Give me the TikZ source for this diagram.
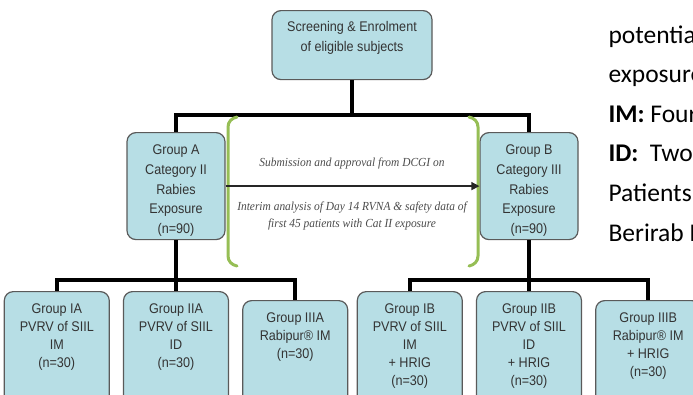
\documentclass[tikz,border=0pt]{standalone}
\usepackage{fontspec}
\setmainfont{Liberation Sans}
\newfontfamily\boxfont[FakeStretch=0.9]{Liberation Sans}
\newfontfamily\notefont[FakeStretch=0.93]{Liberation Serif}
\newfontfamily\sidefont{Carlito}
\usetikzlibrary{arrows.meta,positioning}
\definecolor{boxblue}{RGB}{183,222,229}
\definecolor{boxline}{RGB}{90,90,90}
\definecolor{bracegreen}{RGB}{150,190,85}
\definecolor{notegray}{RGB}{75,75,75}
\tikzset{
  >=Stealth,
  every node/.append style={font=\boxfont\fontsize{14}{18}\selectfont},
}
\tikzset{
  box/.style={draw=boxline, fill=boxblue, rounded corners=9pt, align=center, line width=1.2pt, inner sep=4pt, text=black!80},
  link/.style={line width=3.5pt, black},
  brace/.style={line width=3pt, bracegreen, line cap=round},
  note/.style={font=\notefont\itshape\fontsize{12.3}{17}\selectfont, text=notegray, align=center}
}

\begin{document}
\begin{tikzpicture}[
  x=1pt, y=-1pt,
  topbox/.style={box, anchor=north, minimum width=160pt, text height=36.5pt, text depth=24.5pt, font=\boxfont\fontsize{14}{20}\selectfont},
  grpbox/.style={box, anchor=north, minimum width=98pt, text height=96.8pt, text depth=2.2pt, font=\boxfont\fontsize{14}{19.7}\selectfont},
  armbox/.style={box, anchor=north, minimum width=105pt, text height=#1, text depth=60pt},
  arrow/.style={-{Triangle[length=8pt, width=8pt]}, line width=1.3pt, black!85}
]
\useasboundingbox (0,0) rectangle (693,394);
\clip (0,0) rectangle (693,394);

\node[topbox] (screen) at (352,10) {Screening \& Enrolment\\of eligible subjects};
\node[grpbox] (grpA) at (176,132) {Group A\\Category II\\Rabies\\Exposure\\(n=90)};
\node[grpbox] (grpB) at (529,132) {Group B\\Category III\\Rabies\\Exposure\\(n=90)};

% study arms (text height = first line + one skip per extra line)
\node[armbox=72pt] (iiA) at (176,291) {Group IIA\\PVRV of SIIL\\ID\\(n=30)};
\node[armbox=72pt, left=13pt of iiA] (iA) {Group IA\\PVRV of SIIL\\IM\\(n=30)};
\node[armbox=54pt, right=13pt of iiA] (iiiA) {Group IIIA\\Rabipur® IM\\(n=30)};
\node[armbox=90pt] (iiB) at (529,291) {Group IIB\\PVRV of SIIL\\ID\\+ HRIG\\(n=30)};
\node[armbox=90pt, left=13pt of iiB] (iB) {Group IB\\PVRV of SIIL\\IM\\+ HRIG\\(n=30)};
\node[armbox=72pt, right=13pt of iiB] (iiiB) {Group IIIB\\Rabipur® IM\\+ HRIG\\(n=30)};

\coordinate (topbus) at (352,115);
\coordinate (busA) at (176,280);
\coordinate (busB) at (529,280);

\draw[link] (screen) -- (topbus);
\draw[link] (grpA) |- (topbus) -| (grpB);
\draw[link] (grpA) -- (busA);
\draw[link] (iA) |- (busA) -| (iiiA);
\draw[link] (busA) -- (iiA);
\draw[link] (grpB) -- (busB);
\draw[link] (iB) |- (busB) -| (iiiB);
\draw[link] (busB) -- (iiB);

% interim analysis bracket
\draw[brace] (237,117) to[out=190, in=90] (228,127) -- (228,256) to[out=-90, in=170] (237,266);
\draw[brace] (469,117) to[out=-10, in=90] (478,127) -- (478,256) to[out=-90, in=10] (469,266);
\draw[arrow] (grpA) -- (grpB);
\node[note, anchor=base] (subm) at (352,166.5) {Submission and approval from DCGI on};
\node[note, anchor=base] (interim) at (352,227) {Interim analysis of Day 14 RVNA \& safety data of\\first 45 patients with Cat II exposure};

% side notes
\node[anchor=base west, align=left, font=\sidefont\fontsize{25.5}{39.6}\selectfont, text=black] (legend) at (605,241)
  {potential\\exposure\\\textbf{IM:} Four\\\textbf{ID:}~~Two\\Patients\\Berirab P};
\end{tikzpicture}
\end{document}
